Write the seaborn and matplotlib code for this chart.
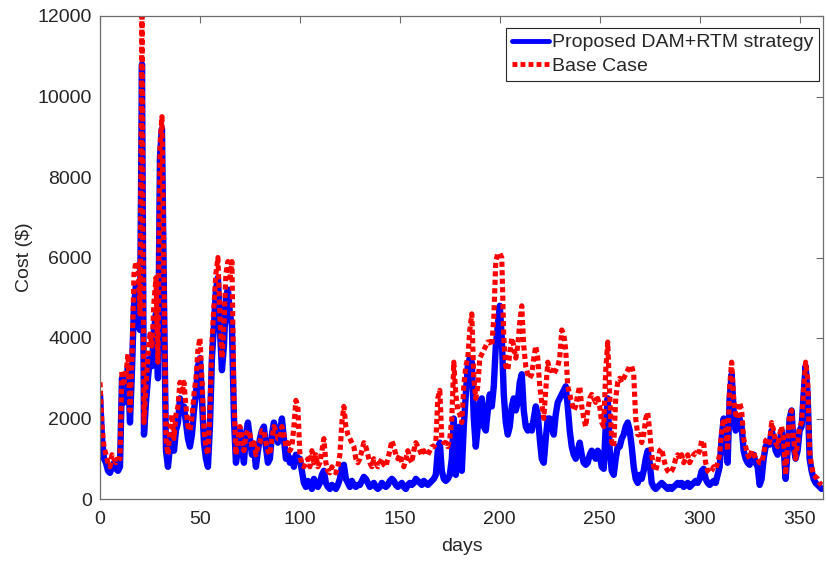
import numpy as np
import pandas as pd
import seaborn as sns
import matplotlib
matplotlib.use("Agg")
import matplotlib.pyplot as plt

# daily cost, day 0 .. 361
proposed = [
    2600, 1500, 1000, 900, 700, 650, 800, 900, 750, 700,
    800, 3000, 2400, 2800, 3300, 1900, 3200, 4800, 5300, 4500,
    4200, 10800, 1600, 2400, 3000, 3500, 3300, 4200, 4600, 3000,
    8500, 9200, 5000, 1200, 800, 1300, 1600, 1200, 1700, 1900,
    2500, 2200, 2300, 1900, 1500, 1300, 1600, 2200, 2600, 3300,
    3500, 2500, 1400, 1000, 800, 1800, 3500, 4300, 5200, 5500,
    4200, 3200, 3800, 5000, 5200, 4600, 4300, 2000, 900, 1200,
    1700, 1300, 900, 1600, 1900, 1500, 1100, 1300, 800, 1200,
    1500, 1700, 1800, 1300, 900, 1000, 1600, 1900, 1700, 1400,
    1600, 2000, 1500, 1000, 1100, 900, 1000, 800, 1100, 1000,
    1000, 700, 400, 300, 450, 350, 250, 500, 400, 300,
    400, 600, 700, 400, 300, 250, 350, 300, 250, 350,
    500, 800, 850, 500, 400, 300, 450, 350, 300, 350,
    350, 450, 550, 500, 400, 300, 350, 400, 300, 250,
    300, 400, 350, 300, 350, 450, 500, 450, 350, 300,
    350, 400, 300, 250, 350, 400, 350, 400, 500, 450,
    400, 350, 450, 400, 350, 400, 450, 500, 600, 1200,
    1400, 700, 500, 450, 500, 600, 1000, 2000, 600, 1500,
    1800, 700, 1800, 2600, 3300, 3500, 3400, 2000, 1300, 1800,
    2400, 2500, 1800, 1700, 2200, 2600, 2300, 2800, 3800, 4300,
    4800, 4000, 2600, 1900, 1600, 1800, 2300, 2500, 2200, 2400,
    2900, 3100, 2200, 1800, 1700, 1800, 1700, 2000, 2300, 2100,
    1500, 1000, 900, 1500, 2000, 2000, 1800, 1600, 2100, 2400,
    2500, 2600, 2700, 2800, 2300, 1700, 1300, 1100, 1000, 1200,
    1400, 1100, 900, 850, 900, 1100, 1200, 1100, 1000, 1200,
    1100, 800, 750, 1800, 2500, 1200, 700, 600, 1000, 1300,
    1300, 1500, 1600, 1800, 1900, 1700, 1300, 800, 500, 400,
    600, 500, 700, 1000, 1200, 900, 400, 300, 250, 300,
    350, 400, 350, 300, 250, 300, 250, 300, 350, 400,
    350, 400, 300, 350, 400, 300, 350, 400, 450, 400,
    500, 700, 750, 500, 400, 350, 400, 450, 400, 600,
    800, 1500, 2000, 1500, 900, 2500, 3100, 2200, 1700, 1900,
    2000, 1800, 1200, 1000, 900, 850, 1000, 1100, 900, 800,
    350, 500, 1000, 1300, 1400, 1350, 1700, 1500, 1200, 1100,
    1400, 1700, 1300, 500, 1200, 2000, 2200, 1300, 1000, 1200,
    1700, 1800, 2600, 3300, 2600, 1000, 700, 500, 400, 350, 300, 250,
]

base_case = [
    2900, 1800, 1300, 1100, 900, 800, 1100, 1000, 900, 1000,
    1000, 3200, 2900, 3100, 3600, 2200, 3500, 5600, 5900, 5800,
    4600, 12100, 1900, 2800, 3600, 4100, 3800, 4900, 5500, 3400,
    8800, 9500, 5600, 1500, 1100, 1700, 2100, 1500, 2100, 2300,
    2900, 2600, 2900, 2300, 1800, 1700, 2000, 2600, 3000, 3700,
    4000, 3000, 1700, 1300, 1100, 2200, 3900, 4800, 5600, 6000,
    4500, 3500, 4300, 5600, 5900, 5500, 5900, 2500, 1100, 1500,
    1800, 1500, 1200, 1600, 1700, 1600, 1300, 1400, 1100, 1300,
    1400, 1700, 1700, 1400, 1200, 1100, 1500, 1800, 1700, 1500,
    1500, 1800, 1600, 1300, 1400, 1200, 1300, 1800, 2450, 2300,
    1100, 850, 800, 900, 1000, 800, 1200, 900, 1100, 800,
    900, 1200, 1500, 900, 700, 650, 800, 700, 650, 800,
    1100, 1900, 2300, 1800, 1600, 1500, 1400, 1300, 1000, 900,
    1000, 1200, 1400, 1300, 1100, 900, 800, 1000, 900, 800,
    900, 1000, 850, 800, 1000, 1200, 1450, 1300, 1100, 1000,
    1100, 900, 800, 1000, 1200, 1000, 900, 1200, 1400, 1300,
    1200, 1100, 1200, 1100, 1100, 1200, 1300, 1300, 1400, 2500,
    2700, 1500, 1400, 1400, 1300, 1500, 2000, 3400, 2600, 2200,
    2100, 1900, 2800, 3300, 3500, 4200, 4600, 3000, 2500, 2800,
    3500, 3600, 3700, 3800, 3900, 3900, 3800, 4500, 5900, 6100,
    6100, 6000, 4000, 3300, 3200, 3600, 4000, 3800, 3500, 3800,
    4400, 4800, 3800, 3300, 3100, 3000, 3100, 3500, 3800, 3500,
    2800, 2400, 2000, 2700, 3400, 3200, 3200, 3100, 3200, 3300,
    3500, 4200, 4100, 3700, 2800, 2600, 2400, 2200, 2300, 2600,
    2800, 2300, 2000, 1800, 2200, 2500, 2600, 2500, 2400, 2500,
    2300, 1900, 1800, 3200, 3900, 2600, 1400, 1300, 2500, 2900,
    3000, 2900, 3000, 3100, 3200, 3300, 3300, 3100, 2000, 1600,
    1600, 1400, 1600, 2000, 2150, 1700, 1100, 800, 700, 900,
    1200, 1250, 1000, 800, 700, 650, 700, 800, 1000, 1100,
    1000, 1100, 900, 1000, 1100, 900, 1000, 1100, 1150, 1100,
    1200, 1450, 1400, 900, 700, 650, 700, 800, 750, 900,
    1100, 1700, 2000, 1800, 1200, 2800, 3400, 2500, 2100, 2000,
    2400, 2200, 1500, 1300, 1100, 1000, 1200, 1150, 1000, 1000,
    900, 900, 1100, 1450, 1500, 1400, 1900, 1700, 1400, 1300,
    1600, 1800, 1400, 600, 1400, 2100, 2200, 1500, 1000, 1400,
    1800, 1900, 2700, 3400, 3000, 1200, 800, 600, 550, 500, 400, 350,
]

days = list(range(len(proposed)))

df = pd.DataFrame({"days": days, "Proposed": proposed, "Base": base_case})

sns.set_style("white")
plt.rcParams["font.family"] = ["Liberation Sans", "DejaVu Sans"]
plt.rcParams["font.size"] = 14

gray = "#262626"
spine_gray = "#6e6e6e"
fig = plt.figure(figsize=(8.28, 5.63), dpi=100)
ax = fig.add_axes([100 / 828, 1 - 499 / 563, 723 / 828, 483 / 563])

sns.lineplot(data=df, x="days", y="Proposed", ax=ax, color="#0000ff",
             linewidth=4.6, label="Proposed DAM+RTM strategy")
sns.lineplot(data=df, x="days", y="Base", ax=ax, color="#ff0000",
             linewidth=3.7, label="Base Case")
ax.lines[1].set_dashes((1.0, 0.65))

ax.set_xlim(0, 361.7)
ax.set_ylim(0, 12000)
ax.set_xticks(np.arange(0, 351, 50))
ax.set_yticks(np.arange(0, 12001, 2000))
ax.set_xlabel("days", fontsize=14, color=gray, labelpad=7)
ax.set_ylabel("Cost ($)", fontsize=14, color=gray, labelpad=3)
ax.tick_params(direction="in", length=5, width=0.8, color=spine_gray,
               labelcolor=gray, labelsize=14, top=True, right=True,
               labeltop=False, labelright=False)
ax.tick_params(axis="x", pad=9)
ax.tick_params(axis="y", pad=6)
for sp in ax.spines.values():
    sp.set_color(spine_gray)
    sp.set_linewidth(0.9)

leg = ax.legend(loc="upper right", bbox_to_anchor=(819 / 828, 1 - 28 / 563),
                bbox_transform=fig.transFigure, borderaxespad=0,
                frameon=True, fancybox=False, framealpha=1,
                edgecolor=gray, fontsize=14, handlelength=1.9,
                handletextpad=0.15, borderpad=0.3, labelspacing=0.3)
leg.get_frame().set_linewidth(0.8)
for h in leg.get_lines():
    h.set_linewidth(3.5)

fig.savefig("out.png", dpi=100)
